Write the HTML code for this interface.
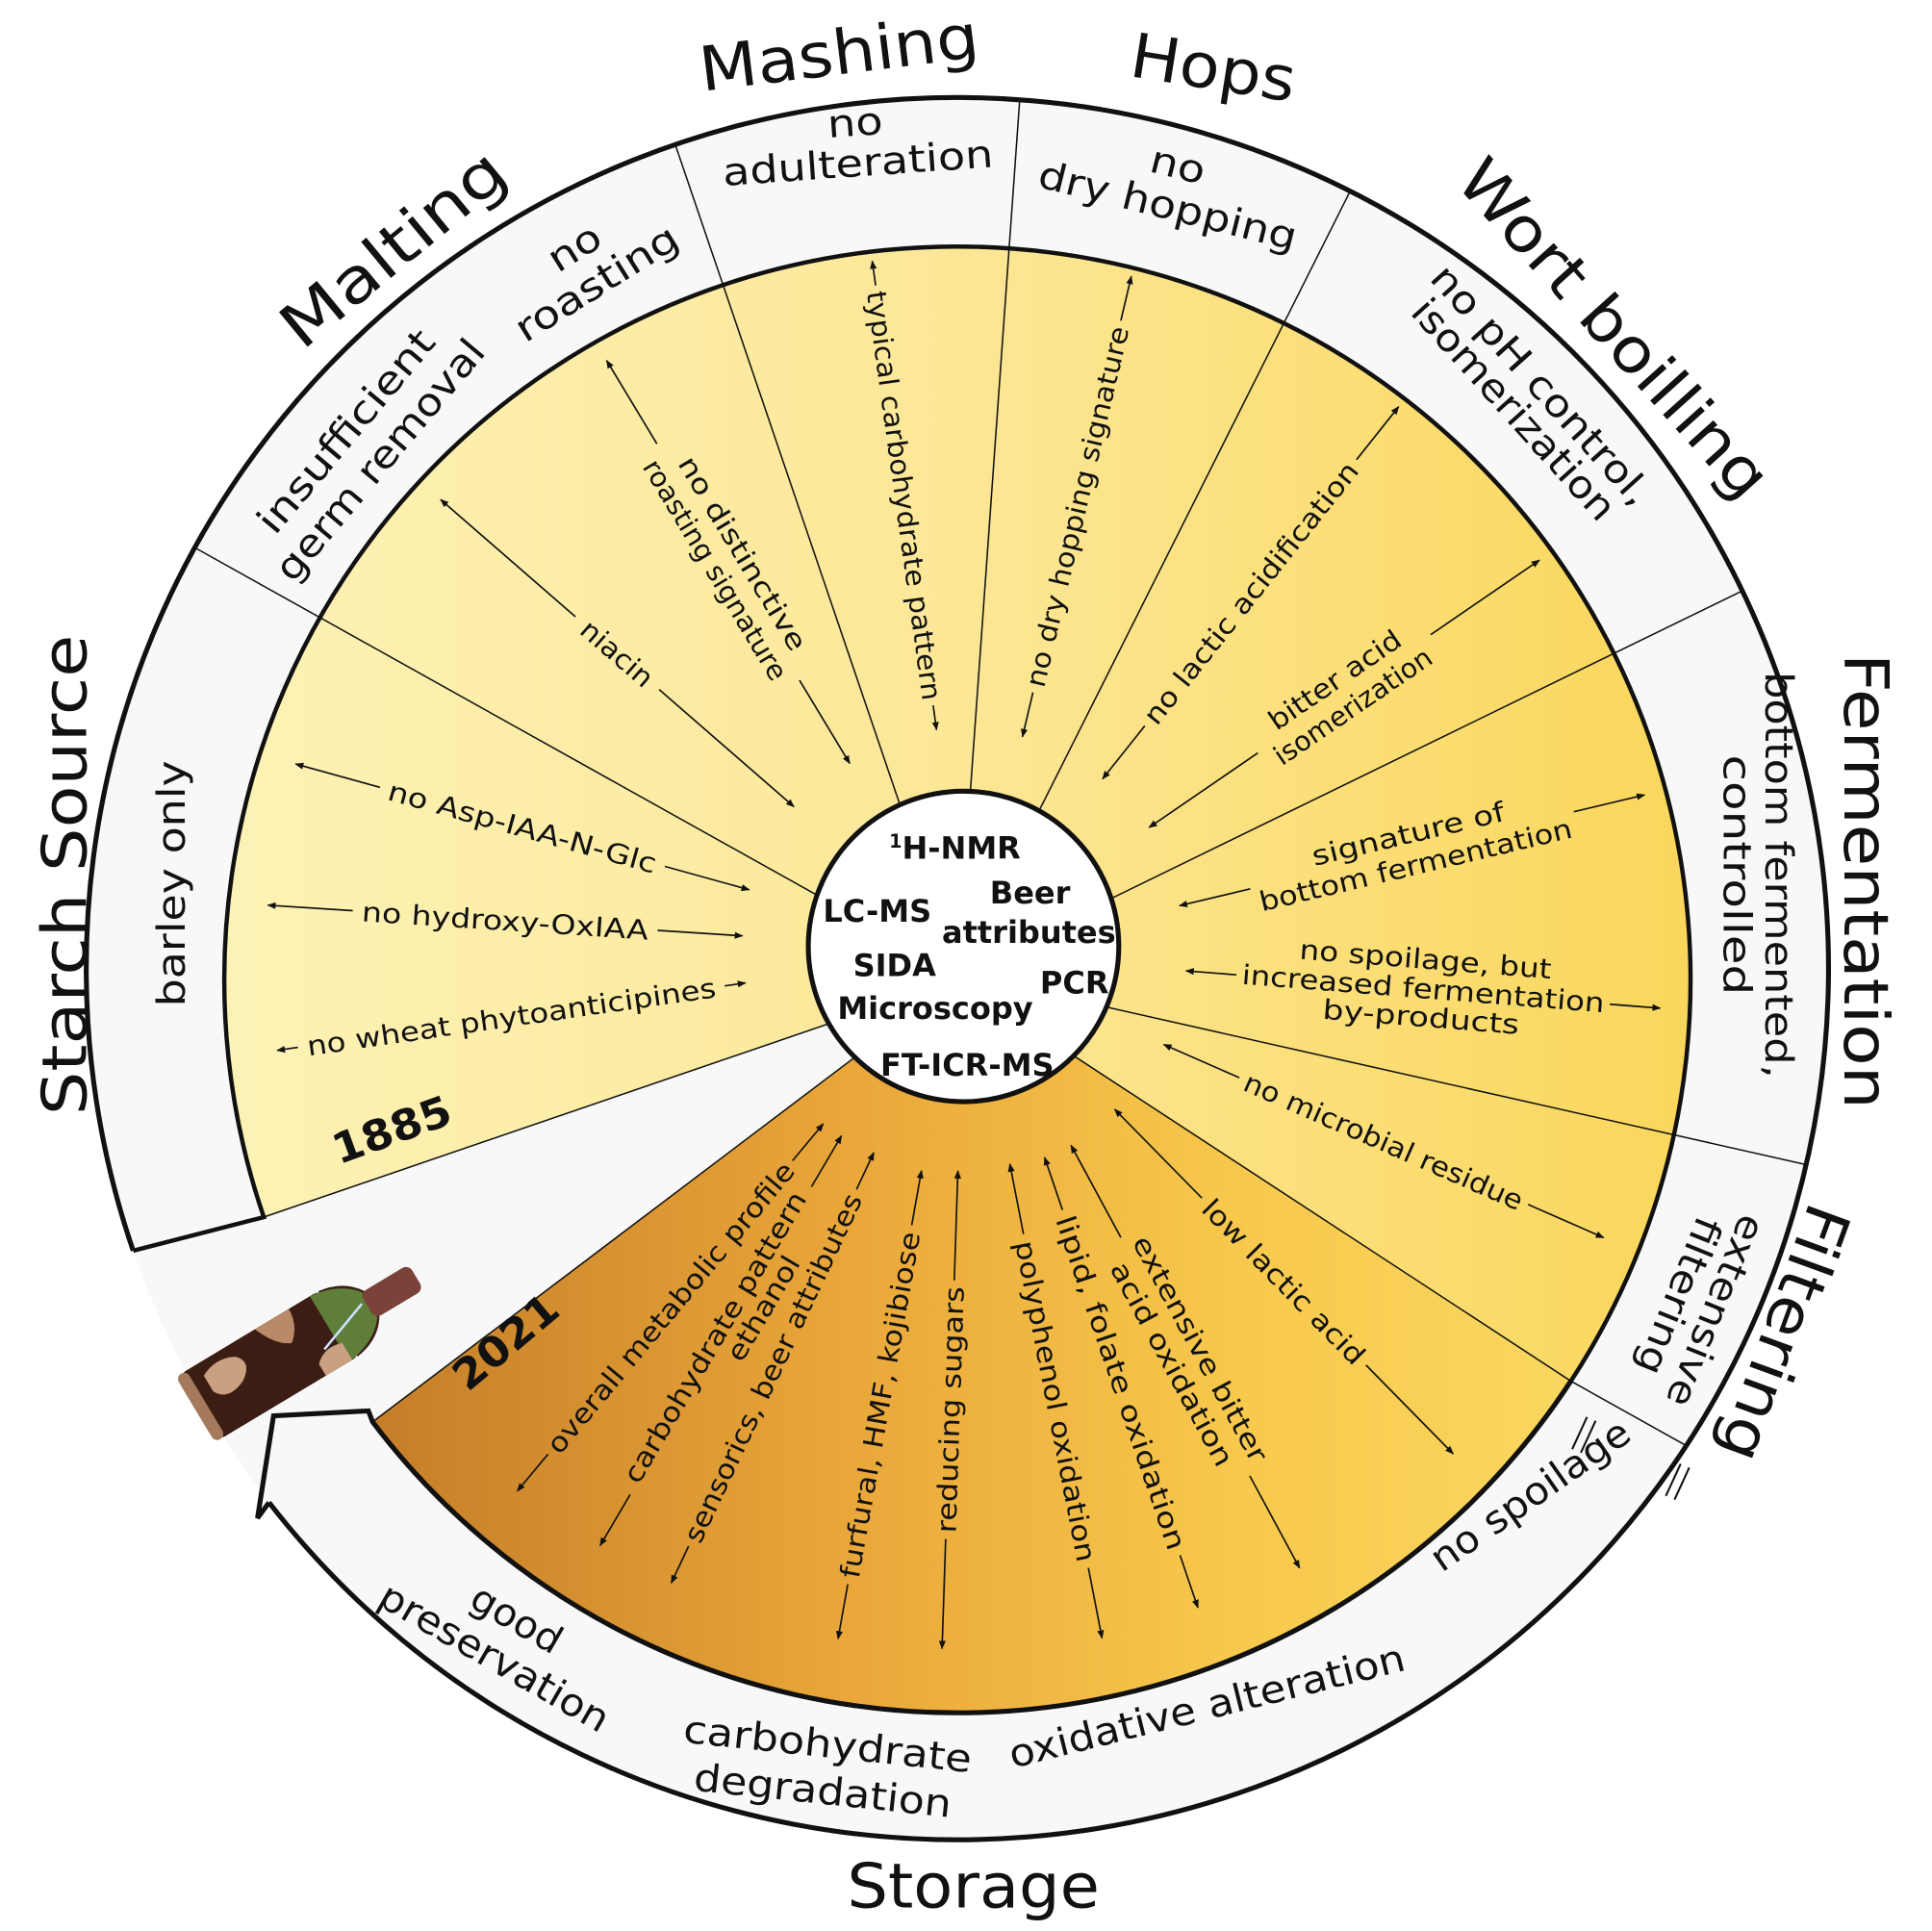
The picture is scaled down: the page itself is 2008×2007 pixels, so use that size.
<!DOCTYPE html>
<html><head><meta charset="utf-8"><style>
html,body{margin:0;padding:0;background:#fff;}
svg{display:block;}
text{font-family:"DejaVu Sans","Liberation Sans",sans-serif;fill:#111;}
.big{font-size:50px;}
.rg{font-size:31px;}
.in{font-size:22px;}
.ctr{font-size:25px;font-weight:bold;}
.yr{font-size:34px;font-weight:bold;}
.ar{stroke:#111;stroke-width:1.3;fill:none;}
</style></head><body>
<svg width="2008" height="2007" viewBox="0 0 1568 1567" xmlns="http://www.w3.org/2000/svg">
<defs>
<linearGradient id="yg" gradientUnits="userSpaceOnUse" x1="185" y1="0" x2="1380" y2="0">
<stop offset="0" stop-color="#fdf2b6"/><stop offset="0.5" stop-color="#fce796"/><stop offset="1" stop-color="#fad65a"/>
</linearGradient>
<linearGradient id="og" gradientUnits="userSpaceOnUse" x1="296" y1="0" x2="1300" y2="0">
<stop offset="0" stop-color="#c47d28"/><stop offset="0.4" stop-color="#eaa83a"/><stop offset="0.7" stop-color="#f7c84c"/><stop offset="1" stop-color="#fbd860"/>
</linearGradient>
<marker id="ah" viewBox="0 0 10 10" refX="9" refY="5" markerWidth="7" markerHeight="7" orient="auto-start-reverse" markerUnits="userSpaceOnUse">
<path d="M0,1 L10,5 L0,9 z" fill="#111"/>
</marker>
</defs>

<circle cx="777" cy="786" r="707" fill="#f8f8f8"/>
<path d="M777,795 L214.1,987.7 A595,595 0 1 1 1274.9,1120.8 Z" fill="url(#yg)"/>
<path d="M777,795 L1274.9,1120.8 A595,595 0 0 1 302.4,1153.9 Z" fill="url(#og)"/>

<!-- separators -->
<g stroke="#111" stroke-width="1.2">
<line x1="158" y1="444.3" x2="777" y2="790"/>
<line x1="548" y1="117.1" x2="777" y2="790"/>
<line x1="827.6" y1="80.8" x2="777" y2="790"/>
<line x1="1095.8" y1="155" x2="777" y2="790"/>
<line x1="1414.1" y1="479.4" x2="777" y2="790"/>
<line x1="1465.9" y1="945.1" x2="777" y2="790"/>
<line x1="1368.6" y1="1173.2" x2="1274.9" y2="1120.8"/>
<line x1="1274.9" y1="1120.8" x2="777" y2="795"/>
<line x1="214.1" y1="987.7" x2="777" y2="795"/>
<line x1="302.4" y1="1153.9" x2="777" y2="795"/>
</g>
<!-- outer border -->
<path d="M108.1,1015 A707,707 0 1 1 218.3,1219.3" fill="none" stroke="#111" stroke-width="4"/>
<path d="M108.1,1015 L214.1,987.7 A595,595 0 1 1 1274.9,1120.8" fill="none" stroke="#111" stroke-width="3.5"/>
<path d="M1274.9,1120.8 A595,595 0 0 1 302.4,1153.9 L299,1145 L222,1149 L209,1232 L218.3,1219.3" fill="none" stroke="#111" stroke-width="4" stroke-linejoin="miter"/>
<g stroke="#111" stroke-width="1.6">
<line x1="1276" y1="1176" x2="1288" y2="1150"/><line x1="1283" y1="1179" x2="1295" y2="1153"/>
<line x1="1352" y1="1214" x2="1364" y2="1188"/><line x1="1359" y1="1217" x2="1371" y2="1191"/>
</g>

<!-- big labels -->
<text class="big" text-anchor="middle" textLength="390" lengthAdjust="spacingAndGlyphs" transform="translate(70,710) rotate(-90)">Starch Source</text>
<text class="big" text-anchor="middle" textLength="220" lengthAdjust="spacingAndGlyphs" transform="translate(330,215) rotate(-39.5)">Malting</text>
<text class="big" text-anchor="middle" textLength="228" lengthAdjust="spacingAndGlyphs" transform="translate(683,60) rotate(-7)">Mashing</text>
<text class="big" text-anchor="middle" textLength="135" lengthAdjust="spacingAndGlyphs" transform="translate(982,72) rotate(9)">Hops</text>
<text class="big" text-anchor="middle" textLength="350" lengthAdjust="spacingAndGlyphs" transform="translate(1297,278) rotate(48)">Wort boilling</text>
<text class="big" text-anchor="middle" textLength="370" lengthAdjust="spacingAndGlyphs" transform="translate(1497,715) rotate(90)">Fermentation</text>
<text class="big" text-anchor="middle" textLength="218" lengthAdjust="spacingAndGlyphs" transform="translate(1432,1076) rotate(110)">Filtering</text>
<text class="big" text-anchor="middle" textLength="205" lengthAdjust="spacingAndGlyphs" x="790" y="1548">Storage</text>

<!-- ring labels -->
<text class="rg" text-anchor="middle" textLength="200" lengthAdjust="spacingAndGlyphs" transform="translate(150,717) rotate(-90)">barley only</text>
<g transform="translate(295,362) rotate(-50)"><text class="rg" text-anchor="middle" y="-8" textLength="205" lengthAdjust="spacingAndGlyphs">insufficient</text><text class="rg" text-anchor="middle" y="28" textLength="245" lengthAdjust="spacingAndGlyphs">germ removal</text></g>
<g transform="translate(475,215) rotate(-32)"><text class="rg" text-anchor="middle" y="-6" textLength="45" lengthAdjust="spacingAndGlyphs">no</text><text class="rg" text-anchor="middle" y="28" textLength="150" lengthAdjust="spacingAndGlyphs">roasting</text></g>
<g transform="translate(695,115) rotate(-4)"><text class="rg" text-anchor="middle" y="-5" textLength="45" lengthAdjust="spacingAndGlyphs">no</text><text class="rg" text-anchor="middle" y="28" textLength="220" lengthAdjust="spacingAndGlyphs">adulteration</text></g>
<g transform="translate(952,150) rotate(14)"><text class="rg" text-anchor="middle" y="-6" textLength="45" lengthAdjust="spacingAndGlyphs">no</text><text class="rg" text-anchor="middle" y="28" textLength="215" lengthAdjust="spacingAndGlyphs">dry hopping</text></g>
<g transform="translate(1240,322) rotate(48)"><text class="rg" text-anchor="middle" y="-4" textLength="250" lengthAdjust="spacingAndGlyphs">no pH control,</text><text class="rg" text-anchor="middle" y="26" textLength="230" lengthAdjust="spacingAndGlyphs">isomerization</text></g>
<g transform="translate(1427,710) rotate(90)"><text class="rg" text-anchor="middle" y="-6" textLength="330" lengthAdjust="spacingAndGlyphs">bottom fermented,</text><text class="rg" text-anchor="middle" y="28" textLength="195" lengthAdjust="spacingAndGlyphs">controlled</text></g>
<g transform="translate(1378,1058) rotate(112)"><text class="rg" text-anchor="middle" y="-5" textLength="165" lengthAdjust="spacingAndGlyphs">extensive</text><text class="rg" text-anchor="middle" y="27" textLength="135" lengthAdjust="spacingAndGlyphs">filtering</text></g>
<text class="rg" text-anchor="middle" textLength="190" lengthAdjust="spacingAndGlyphs" transform="translate(1248,1222) rotate(-35)">no spoilage</text>
<text class="rg" text-anchor="middle" textLength="330" lengthAdjust="spacingAndGlyphs" transform="translate(982,1395) rotate(-14)">oxidative alteration</text>
<g transform="translate(670,1432) rotate(6)"><text class="rg" text-anchor="middle" y="-6" textLength="235" lengthAdjust="spacingAndGlyphs">carbohydrate</text><text class="rg" text-anchor="middle" y="32" textLength="210" lengthAdjust="spacingAndGlyphs">degradation</text></g>
<g transform="translate(410,1330) rotate(30)"><text class="rg" text-anchor="middle" y="-8" textLength="80" lengthAdjust="spacingAndGlyphs">good</text><text class="rg" text-anchor="middle" y="28" textLength="210" lengthAdjust="spacingAndGlyphs">preservation</text></g>

<!-- inner arrows -->
<g transform="translate(424,671) rotate(15.5)"><line class="ar" x1="-191" y1="0" x2="-120" y2="0" marker-start="url(#ah)"/><line class="ar" x1="120" y1="0" x2="191" y2="0" marker-end="url(#ah)"/><text class="in" text-anchor="middle" y="8" textLength="225" lengthAdjust="spacingAndGlyphs">no Asp-IAA-N-Glc</text></g>
<g transform="translate(410,747) rotate(3.7)"><line class="ar" x1="-193" y1="0" x2="-124" y2="0" marker-start="url(#ah)"/><line class="ar" x1="124" y1="0" x2="193" y2="0" marker-end="url(#ah)"/><text class="in" text-anchor="middle" y="8" textLength="233" lengthAdjust="spacingAndGlyphs">no hydroxy-OxIAA</text></g>
<g transform="translate(415,825) rotate(-8.2)"><line class="ar" x1="-192" y1="0" x2="-175" y2="0" marker-start="url(#ah)"/><line class="ar" x1="175" y1="0" x2="192" y2="0" marker-end="url(#ah)"/><text class="in" text-anchor="middle" y="8" textLength="335" lengthAdjust="spacingAndGlyphs">no wheat phytoanticipines</text></g>
<g transform="translate(501,530) rotate(41)"><line class="ar" x1="-190" y1="0" x2="-45" y2="0" marker-start="url(#ah)"/><line class="ar" x1="45" y1="0" x2="190" y2="0" marker-end="url(#ah)"/><text class="in" text-anchor="middle" y="8" textLength="70" lengthAdjust="spacingAndGlyphs">niacin</text></g>
<g transform="translate(591,456) rotate(58.9)"><line class="ar" x1="-191" y1="0" x2="-112" y2="0" marker-start="url(#ah)"/><line class="ar" x1="112" y1="0" x2="191" y2="0" marker-end="url(#ah)"/><text class="in" text-anchor="middle" y="-6" textLength="180" lengthAdjust="spacingAndGlyphs">no distinctive</text><text class="in" text-anchor="middle" y="20" textLength="205" lengthAdjust="spacingAndGlyphs">roasting signature</text></g>
<g transform="translate(734,402) rotate(82.2)"><line class="ar" x1="-192" y1="0" x2="-172" y2="0" marker-start="url(#ah)"/><line class="ar" x1="172" y1="0" x2="192" y2="0" marker-end="url(#ah)"/><text class="in" text-anchor="middle" y="8" textLength="335" lengthAdjust="spacingAndGlyphs">typical carbohydrate pattern</text></g>
<g transform="translate(874,411) rotate(-76.7)"><line class="ar" x1="-192" y1="0" x2="-155" y2="0" marker-start="url(#ah)"/><line class="ar" x1="155" y1="0" x2="192" y2="0" marker-end="url(#ah)"/><text class="in" text-anchor="middle" y="8" textLength="300" lengthAdjust="spacingAndGlyphs">no dry hopping signature</text></g>
<g transform="translate(1015,481) rotate(-51.5)"><line class="ar" x1="-193" y1="0" x2="-138" y2="0" marker-start="url(#ah)"/><line class="ar" x1="138" y1="0" x2="193" y2="0" marker-end="url(#ah)"/><text class="in" text-anchor="middle" y="8" textLength="265" lengthAdjust="spacingAndGlyphs">no lactic acidification</text></g>
<g transform="translate(1091,563) rotate(-34.4)"><line class="ar" x1="-192" y1="0" x2="-85" y2="0" marker-start="url(#ah)"/><line class="ar" x1="85" y1="0" x2="192" y2="0" marker-end="url(#ah)"/><text class="in" text-anchor="middle" y="-6" textLength="125" lengthAdjust="spacingAndGlyphs">bitter acid</text><text class="in" text-anchor="middle" y="20" textLength="150" lengthAdjust="spacingAndGlyphs">isomerization</text></g>
<g transform="translate(1146,690) rotate(-13.4)"><line class="ar" x1="-194" y1="0" x2="-135" y2="0" marker-start="url(#ah)"/><line class="ar" x1="135" y1="0" x2="194" y2="0" marker-end="url(#ah)"/><text class="in" text-anchor="middle" y="-6" textLength="160" lengthAdjust="spacingAndGlyphs">signature of</text><text class="in" text-anchor="middle" y="20" textLength="260" lengthAdjust="spacingAndGlyphs">bottom fermentation</text></g>
<g transform="translate(1155,803) rotate(4.5)"><line class="ar" x1="-193" y1="0" x2="-152" y2="0" marker-start="url(#ah)"/><line class="ar" x1="152" y1="0" x2="193" y2="0" marker-end="url(#ah)"/><text class="in" text-anchor="middle" y="-17" textLength="205" lengthAdjust="spacingAndGlyphs">no spoilage, but</text><text class="in" text-anchor="middle" y="7" textLength="295" lengthAdjust="spacingAndGlyphs">increased fermentation</text><text class="in" text-anchor="middle" y="30" textLength="160" lengthAdjust="spacingAndGlyphs">by-products</text></g>
<g transform="translate(1123,926) rotate(23.7)"><line class="ar" x1="-195" y1="0" x2="-128" y2="0" marker-start="url(#ah)"/><line class="ar" x1="128" y1="0" x2="195" y2="0" marker-end="url(#ah)"/><text class="in" text-anchor="middle" y="8" textLength="245" lengthAdjust="spacingAndGlyphs">no microbial residue</text></g>
<g transform="translate(1042,1040) rotate(45.5)"><line class="ar" x1="-196" y1="0" x2="-95" y2="0" marker-start="url(#ah)"/><line class="ar" x1="95" y1="0" x2="196" y2="0" marker-end="url(#ah)"/><text class="in" text-anchor="middle" y="8" textLength="178" lengthAdjust="spacingAndGlyphs">low lactic acid</text></g>
<g transform="translate(544,1061) rotate(-50.2)"><line class="ar" x1="-194" y1="0" x2="-155" y2="0" marker-start="url(#ah)"/><line class="ar" x1="155" y1="0" x2="194" y2="0" marker-end="url(#ah)"/><text class="in" text-anchor="middle" y="8" textLength="300" lengthAdjust="spacingAndGlyphs">overall metabolic profile</text></g>
<g transform="translate(585,1088) rotate(-59.5)"><line class="ar" x1="-193" y1="0" x2="-145" y2="0" marker-start="url(#ah)"/><line class="ar" x1="145" y1="0" x2="193" y2="0" marker-end="url(#ah)"/><text class="in" text-anchor="middle" y="2" textLength="270" lengthAdjust="spacingAndGlyphs">carbohydrate pattern</text><text class="in" text-anchor="middle" x="40" y="24" textLength="95" lengthAdjust="spacingAndGlyphs">ethanol</text></g>
<g transform="translate(627,1110) rotate(-64.8)"><line class="ar" x1="-193" y1="0" x2="-160" y2="0" marker-start="url(#ah)"/><line class="ar" x1="160" y1="0" x2="193" y2="0" marker-end="url(#ah)"/><text class="in" text-anchor="middle" y="8" textLength="310" lengthAdjust="spacingAndGlyphs">sensorics, beer attributes</text></g>
<g transform="translate(714,1140) rotate(-79.9)"><line class="ar" x1="-193" y1="0" x2="-148" y2="0" marker-start="url(#ah)"/><line class="ar" x1="148" y1="0" x2="193" y2="0" marker-end="url(#ah)"/><text class="in" text-anchor="middle" y="8" textLength="285" lengthAdjust="spacingAndGlyphs">furfural, HMF, kojibiose</text></g>
<g transform="translate(771,1144) rotate(-88.1)"><line class="ar" x1="-194" y1="0" x2="-105" y2="0" marker-start="url(#ah)"/><line class="ar" x1="105" y1="0" x2="194" y2="0" marker-end="url(#ah)"/><text class="in" text-anchor="middle" y="8" textLength="200" lengthAdjust="spacingAndGlyphs">reducing sugars</text></g>
<g transform="translate(857,1137) rotate(79)"><line class="ar" x1="-196" y1="0" x2="-138" y2="0" marker-start="url(#ah)"/><line class="ar" x1="138" y1="0" x2="196" y2="0" marker-end="url(#ah)"/><text class="in" text-anchor="middle" y="8" textLength="265" lengthAdjust="spacingAndGlyphs">polyphenol oxidation</text></g>
<g transform="translate(910,1122) rotate(71.2)"><line class="ar" x1="-193" y1="0" x2="-148" y2="0" marker-start="url(#ah)"/><line class="ar" x1="148" y1="0" x2="193" y2="0" marker-end="url(#ah)"/><text class="in" text-anchor="middle" y="8" textLength="285" lengthAdjust="spacingAndGlyphs">lipid, folate oxidation</text></g>
<g transform="translate(962,1101) rotate(61.6)"><line class="ar" x1="-195" y1="0" x2="-110" y2="0" marker-start="url(#ah)"/><line class="ar" x1="110" y1="0" x2="195" y2="0" marker-end="url(#ah)"/><text class="in" text-anchor="middle" y="-6" textLength="205" lengthAdjust="spacingAndGlyphs">extensive bitter</text><text class="in" text-anchor="middle" y="20" textLength="185" lengthAdjust="spacingAndGlyphs">acid oxidation</text></g>

<!-- years -->
<text class="yr" text-anchor="middle" textLength="100" lengthAdjust="spacingAndGlyphs" transform="translate(322,928) rotate(-20)">1885</text>
<text class="yr" text-anchor="middle" textLength="100" lengthAdjust="spacingAndGlyphs" transform="translate(418,1098) rotate(-40)">2021</text>

<!-- center -->
<circle cx="782" cy="768" r="126" fill="#fff" stroke="#111" stroke-width="4"/>
<text class="ctr" x="775" y="697" text-anchor="middle"><tspan font-size="15" dy="-9">1</tspan><tspan dy="9">H-NMR</tspan></text>
<text class="ctr" x="836" y="733" text-anchor="middle">Beer</text>
<text class="ctr" x="835" y="765" text-anchor="middle">attributes</text>
<text class="ctr" x="712" y="748" text-anchor="middle">LC-MS</text>
<text class="ctr" x="726" y="792" text-anchor="middle">SIDA</text>
<text class="ctr" x="872" y="806" text-anchor="middle">PCR</text>
<text class="ctr" x="759" y="827" text-anchor="middle">Microscopy</text>
<text class="ctr" x="785" y="873" text-anchor="middle">FT-ICR-MS</text>

<!-- bottle -->
<g transform="translate(240,1095) rotate(-31)">
<rect x="-95" y="-31" width="140" height="62" rx="10" fill="#3b1d14"/>
<path d="M40,-31 Q62,-28 72,-12 L72,12 Q62,28 40,31 Z" fill="#3b1d14"/>
<path d="M32,-31 Q58,-28 70,-12 L70,12 Q58,28 32,31 Z" fill="#5f7e3a"/>
<rect x="68" y="-12" width="46" height="24" rx="6" fill="#7a4238"/>
<rect x="-95" y="-31" width="10" height="62" rx="5" fill="#a57a5c"/>
<path d="M-75,-20 q15,-8 30,0 q10,10 -5,20 q-18,8 -25,-5z" fill="#c9a080"/>
<path d="M-20,-31 q8,20 20,25 q12,-10 12,-25z" fill="#b88a68"/>
<path d="M10,20 q10,-10 25,-5 l0,16 l-25,0z" fill="#c9a080"/>
<line x1="20" y1="12" x2="65" y2="-4" stroke="#cfe0ff" stroke-width="2"/>
</g>
</svg>
</body></html>
